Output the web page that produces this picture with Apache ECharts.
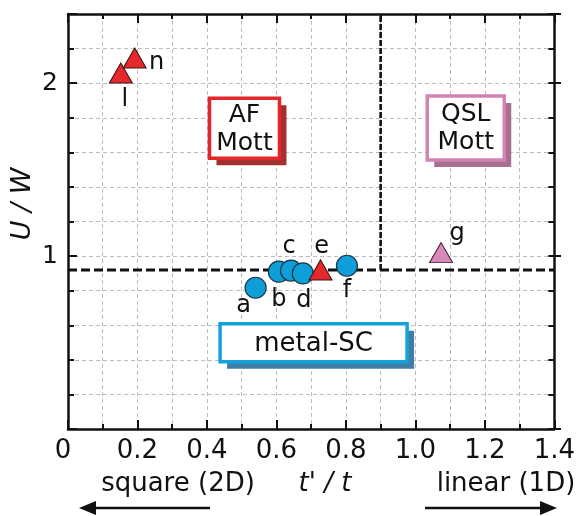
<!DOCTYPE html>
<html>
<head>
<meta charset="utf-8">
<script src="https://cdn.jsdelivr.net/npm/echarts@6/dist/echarts.min.js"></script>
<style>
  html, body { margin: 0; padding: 0; background: #fff; }
  #chart { width: 578px; height: 516px; }
</style>
</head>
<body>
<div id="chart"></div>
<script>
// Phase diagram: U/W against t'/t
const FONT = '"DejaVu Sans", sans-serif';

// x tick labels (every 0.2) and labelled y values
const xTickLabels = ['0', '0.2', '0.4', '0.6', '0.8', '1.0', '1.2', '1.4'];
const yTickValues = [1, 2];

// blue circles (metallic / superconducting)
const circleNames = ['a', 'b', 'c', 'd', 'f'];
const circleX = [0.540, 0.607, 0.642, 0.676, 0.803];
const circleY = [0.817, 0.910, 0.916, 0.900, 0.944];

// red triangles (AF Mott)
const redNames = ['l', 'n', 'e'];
const redX = [0.152, 0.192, 0.727];
const redY = [2.059, 2.146, 0.920];

// pink triangle (QSL Mott)
const pinkNames = ['g'];
const pinkX = [1.074];
const pinkY = [1.020];

// phase boundaries
const boundaryH = [[0, 0.92], [1.4, 0.92]];
const boundaryV = [[0.9, 0.92], [0.9, 2.4]];

// region labels, anchored in data space
const regionText = ['AF\nMott', 'QSL\nMott', 'metal-SC'];
const regionX = [0.508, 1.145, 0.707];
const regionY = [1.739, 1.741, 0.4985];

// per-point label offsets (px)
const labelOffset = {
  a: [-12, 18], b: [0, 28], c: [-2, -24], d: [1, 27], f: [0, 25],
  l: [4, 27], n: [22, 5], e: [1, -23], g: [16, -19]
};

const ink = '#111';
const gridDash = { show: true, lineStyle: { color: '#bcbcbc', width: 1, type: [4, 3] } };
const axisLine = { show: true, onZero: false, lineStyle: { color: ink, width: 2.5 } };

function pts(names, xs, ys) {
  return names.map((n, i) => ({
    name: n,
    value: [xs[i], ys[i]],
    label: { offset: labelOffset[n] }
  }));
}

const pointLabel = {
  show: true, position: 'inside', formatter: '{b}',
  color: ink, fontSize: 24, fontFamily: FONT
};

const chart = echarts.init(document.getElementById('chart'), null, { renderer: 'canvas' });

const grids = [
  { left: 68, right: 17, top: 14, bottom: 87 },
  { left: 68, right: 17, top: 14, bottom: 87 }
];

const option = {
  animation: false,
  backgroundColor: '#fff',
  grid: grids,
  xAxis: [
    {
      gridIndex: 0, type: 'value', position: 'bottom', min: 0, max: 1.4, interval: 0.2,
      axisLine,
      axisTick: { show: true, inside: true, length: 9, lineStyle: { color: ink, width: 2 } },
      minorTick: { show: true, splitNumber: 2, length: 5, lineStyle: { color: ink, width: 2 } },
      splitLine: gridDash, minorSplitLine: gridDash,
      axisLabel: {
        show: true, margin: 9, color: ink, fontSize: 26, fontFamily: FONT,
        formatter: (v, i) => (i === 0 ? '{z|0}' : xTickLabels[i]),
        rich: { z: { fontSize: 26, fontFamily: FONT, color: ink, padding: [0, 10, 0, 0] } }
      }
    },
    {
      gridIndex: 0, type: 'value', position: 'top', min: 0, max: 1.4, interval: 0.2,
      axisLine,
      axisTick: { show: true, inside: true, length: 9, lineStyle: { color: ink, width: 2 } },
      minorTick: { show: true, splitNumber: 2, length: 5, lineStyle: { color: ink, width: 2 } },
      splitLine: { show: false }, axisLabel: { show: false }
    },
    { gridIndex: 1, type: 'value', min: 0, max: 1.4, show: false }
  ],
  yAxis: [
    {
      gridIndex: 0, type: 'value', position: 'left', min: 0, max: 2.4, interval: 0.2,
      axisLine,
      axisTick: { show: true, inside: true, length: 6, lineStyle: { color: ink, width: 2 } },
      splitLine: gridDash, axisLabel: { show: false }
    },
    {
      gridIndex: 0, type: 'value', position: 'right', min: 0, max: 2.4, interval: 0.2,
      axisLine,
      axisTick: { show: true, inside: true, length: 6, lineStyle: { color: ink, width: 2 } },
      splitLine: { show: false }, axisLabel: { show: false }
    },
    {
      gridIndex: 1, type: 'value', position: 'left', min: 0, max: 2.4, interval: 1,
      axisLine: { show: false },
      axisTick: { show: true, inside: true, length: 9, lineStyle: { color: ink, width: 2 } },
      splitLine: { show: false },
      axisLabel: {
        show: true, margin: 10, color: ink, fontSize: 25, fontFamily: FONT,
        formatter: v => (yTickValues.some(t => Math.abs(t - v) < 1e-6) ? String(Math.round(v)) : '')
      }
    },
    {
      gridIndex: 1, type: 'value', position: 'right', min: 0, max: 2.4, interval: 1,
      axisLine: { show: false },
      axisTick: { show: true, inside: true, length: 9, lineStyle: { color: ink, width: 2 } },
      splitLine: { show: false }, axisLabel: { show: false }
    }
  ],
  series: [
    {
      type: 'line', xAxisIndex: 0, yAxisIndex: 0, data: boundaryH, symbol: 'none', silent: true, z: 3,
      lineStyle: { color: ink, width: 3, type: [9, 4] }
    },
    {
      type: 'line', xAxisIndex: 0, yAxisIndex: 0, data: boundaryV, symbol: 'none', silent: true, z: 3,
      lineStyle: { color: ink, width: 2.6, type: [6, 2] }
    },
    {
      type: 'scatter', xAxisIndex: 0, yAxisIndex: 0, z: 5,
      data: pts(circleNames, circleX, circleY),
      symbol: 'circle', symbolSize: 21,
      itemStyle: { color: '#0e9fd9', borderColor: '#1c3448', borderWidth: 1.2, opacity: 1 },
      label: pointLabel
    },
    {
      type: 'scatter', xAxisIndex: 0, yAxisIndex: 0, z: 6,
      data: pts(redNames, redX, redY),
      symbol: 'triangle', symbolSize: [23, 20],
      itemStyle: { color: '#e5282b', borderColor: '#3a1414', borderWidth: 1, opacity: 1 },
      label: pointLabel
    },
    {
      type: 'scatter', xAxisIndex: 0, yAxisIndex: 0, z: 6,
      data: pts(pinkNames, pinkX, pinkY),
      symbol: 'triangle', symbolSize: [23, 20],
      itemStyle: { color: '#d889b9', borderColor: '#3a2030', borderWidth: 1, opacity: 1 },
      label: pointLabel
    }
  ]
};

chart.setOption(option);

// region boxes with offset shadows
const boxStyle = [
  { w: 70, h: 60, stroke: '#e3262b', shadow: '#a3302f', size: 25 },
  { w: 77, h: 64, stroke: '#d283b5', shadow: '#a8708f', size: 25 },
  { w: 187, h: 38, stroke: '#12a3dc', shadow: '#3f7ea6', size: 26 }
];

const graphics = [];
regionText.forEach((txt, i) => {
  const [cx, cy] = chart.convertToPixel({ xAxisIndex: 0, yAxisIndex: 0 }, [regionX[i], regionY[i]]);
  const s = boxStyle[i];
  const x0 = cx - s.w / 2, y0 = cy - s.h / 2;
  graphics.push({
    type: 'rect', z: 20,
    shape: { x: x0 + 7, y: y0 + 7, width: s.w, height: s.h },
    style: { fill: s.shadow }
  });
  graphics.push({
    type: 'rect', z: 21,
    shape: { x: x0, y: y0, width: s.w, height: s.h },
    style: { fill: '#fff', stroke: s.stroke, lineWidth: 3.5 }
  });
  graphics.push({
    type: 'text', z: 22, x: cx, y: cy + 1,
    style: {
      text: txt, fill: ink, fontSize: s.size, fontFamily: FONT,
      lineHeight: 28, align: 'center', verticalAlign: 'middle'
    }
  });
});

// axis titles and direction captions
graphics.push({
  type: 'text', z: 22, x: 23, y: 204, rotation: Math.PI / 2,
  style: { text: 'U / W', fill: ink, fontSize: 27, fontStyle: 'italic', fontFamily: FONT,
           align: 'center', verticalAlign: 'middle' }
});
graphics.push({
  type: 'text', z: 22, x: 325, y: 484,
  style: { text: "t' / t", fill: ink, fontSize: 26, fontStyle: 'italic', fontFamily: FONT,
           align: 'center', verticalAlign: 'middle' }
});
graphics.push({
  type: 'text', z: 22, x: 178, y: 484,
  style: { text: 'square (2D)', fill: ink, fontSize: 26, fontFamily: FONT,
           align: 'center', verticalAlign: 'middle' }
});
graphics.push({
  type: 'text', z: 22, x: 506, y: 484,
  style: { text: 'linear (1D)', fill: ink, fontSize: 26, fontFamily: FONT,
           align: 'center', verticalAlign: 'middle' }
});

// arrows under the captions
const ay = 508;
graphics.push({ type: 'line', z: 22, shape: { x1: 210, y1: ay, x2: 92, y2: ay },
  style: { stroke: ink, lineWidth: 2.5 } });
graphics.push({ type: 'polygon', z: 22, shape: { points: [[79, ay], [96, ay - 7], [96, ay + 7]] },
  style: { fill: ink } });
graphics.push({ type: 'line', z: 22, shape: { x1: 425, y1: ay, x2: 544, y2: ay },
  style: { stroke: ink, lineWidth: 2.5 } });
graphics.push({ type: 'polygon', z: 22, shape: { points: [[557, ay], [540, ay - 7], [540, ay + 7]] },
  style: { fill: ink } });

chart.setOption({ graphic: { elements: graphics } });
</script>
</body>
</html>
